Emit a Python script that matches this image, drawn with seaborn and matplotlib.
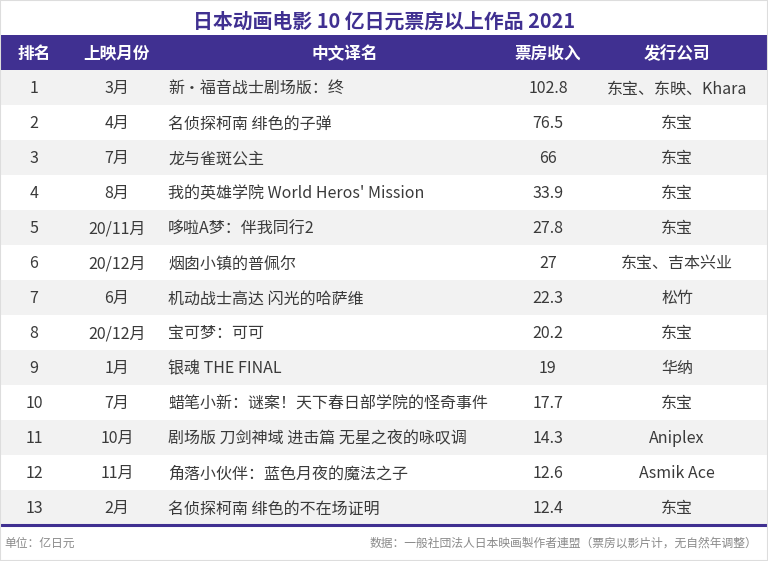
import numpy as np
import pandas as pd
import matplotlib.pyplot as plt
import seaborn as sns
from matplotlib.colors import ListedColormap
from matplotlib.patches import Rectangle

sns.set_theme(style='white')
plt.rcParams['font.family'] = ['Noto Sans CJK SC', 'DejaVu Sans']

PURPLE = '#403091'
GRAY = '#f2f2f2'
TEXT = '#3a3a3a'

# data
headers = ['排名', '上映月份', '中文译名', '票房收入', '发行公司']
ranks = list(range(1, 14))
months = ['3月', '4月', '7月', '8月', '20/11月', '20/12月', '6月', '20/12月',
          '1月', '7月', '10月', '11月', '2月']
titles = ['新・福音战士剧场版：终', '名侦探柯南 绯色的子弹', '龙与雀斑公主',
          "我的英雄学院 World Heros' Mission", '哆啦A梦：伴我同行2',
          '烟囱小镇的普佩尔', '机动战士高达 闪光的哈萨维', '宝可梦：可可',
          '银魂 THE FINAL', '蜡笔小新：谜案！天下春日部学院的怪奇事件',
          '剧场版 刀剑神域 进击篇 无星之夜的咏叹调', '角落小伙伴：蓝色月夜的魔法之子',
          '名侦探柯南 绯色的不在场证明']
box_office = [102.8, 76.5, 66, 33.9, 27.8, 27, 22.3, 20.2, 19, 17.7, 14.3, 12.6, 12.4]
companies = ['东宝、东映、Khara', '东宝', '东宝', '东宝', '东宝', '东宝、吉本兴业',
             '松竹', '东宝', '华纳', '东宝', 'Aniplex', 'Asmik Ace', '东宝']

df = pd.DataFrame({'排名': ranks, '上映月份': months, '中文译名': titles,
                   '票房收入': box_office, '发行公司': companies})

W, H = 768, 561
fig = plt.figure(figsize=(W / 100, H / 100), dpi=100)

# table area: header band + 13 rows, 35px each
top, row_h = 35, 35
n = len(df) + 1
tw = W - 2
ax = fig.add_axes([1 / W, 1 - (top + n * row_h) / H, tw / W, n * row_h / H])

# 2 = header, 1 = gray row, 0 = white row
stripes = np.array([[2]] + [[1 if i % 2 == 0 else 0] for i in range(len(df))])
sns.heatmap(stripes, ax=ax, cmap=ListedColormap(['white', GRAY, PURPLE]),
            vmin=-0.5, vmax=2.5, cbar=False, xticklabels=False, yticklabels=False)
ax.set_xlim(0, 1)
ax.set_ylim(n, 0)
ax.axis('off')

# column centres in pixels
col_x = np.array([33, 116, 344, 547, 676]) / tw
name_x = 167 / tw
dy = 0.04

for x, h in zip(col_x, headers):
    ax.text(x, 0.5 + dy, h, ha='center', va='center', color='white',
            fontsize=12, fontweight='bold')

for i, row in df.iterrows():
    y = i + 1.5 + dy
    kw = dict(va='center', color=TEXT, fontsize=11.5)
    ax.text(col_x[0], y, str(row['排名']), ha='center', **kw)
    ax.text(col_x[1], y, row['上映月份'], ha='center', **kw)
    ax.text(name_x, y, row['中文译名'], ha='left', **kw)
    ax.text(col_x[3], y, f"{row['票房收入']:g}", ha='center', **kw)
    ax.text(col_x[4], y, row['发行公司'], ha='center', **kw)

ax.axhline(n, color=PURPLE, lw=2.2, clip_on=False)

fig.text(0.5, 1 - 21 / H, '日本动画电影 10 亿日元票房以上作品 2021', ha='center', va='center',
         color=PURPLE, fontsize=14.3, fontweight='bold')
fig.text(4 / W, 1 - 543 / H, '单位：亿日元', ha='left', va='center', color='#8a8a8a',
         fontsize=8.5, style='italic')
fig.text(757 / W, 1 - 543 / H, '数据：一般社団法人日本映画製作者連盟（票房以影片计，无自然年调整）',
         ha='right', va='center', color='#8a8a8a', fontsize=8.5, style='italic')

fig.patches.append(Rectangle((0, 0), 1, 1, transform=fig.transFigure, fill=False,
                             edgecolor='#dddddd', lw=1.5))

fig.savefig('out.png', dpi=100)
